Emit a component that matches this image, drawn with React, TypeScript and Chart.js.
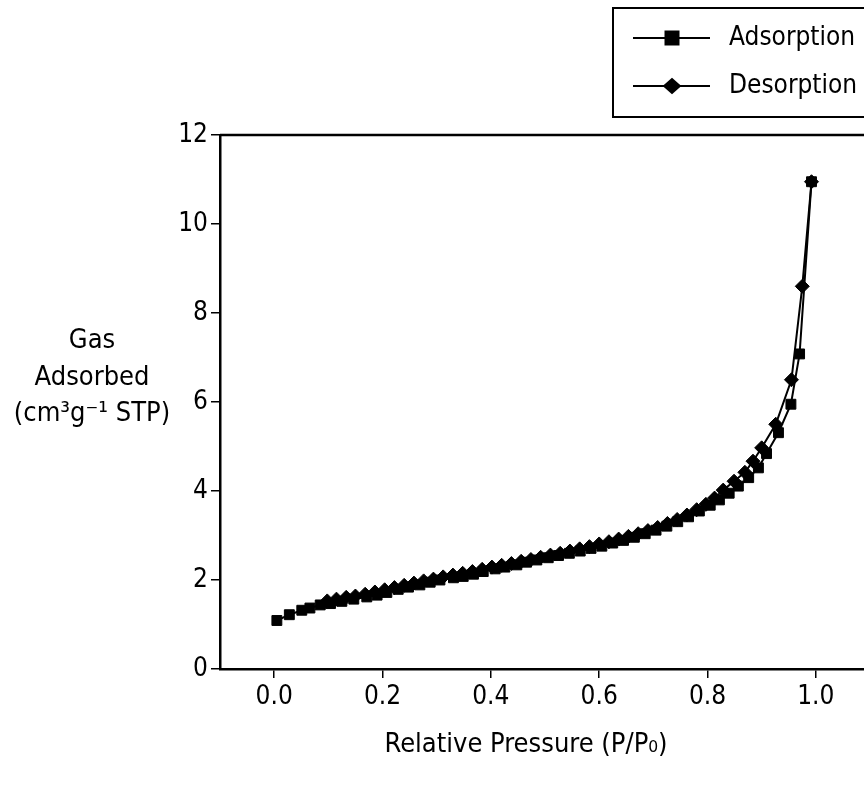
import React, { useEffect, useRef } from "react";
import { Chart, registerables } from "chart.js";

Chart.register(...registerables);

// ---- data ----
const adsorptionP = [0.005, 0.028, 0.051, 0.066, 0.085, 0.104, 0.125, 0.147, 0.171, 0.19, 0.208, 0.229, 0.248, 0.269, 0.288, 0.306, 0.331, 0.349, 0.368, 0.386, 0.408, 0.426, 0.448, 0.466, 0.485, 0.506, 0.525, 0.545, 0.565, 0.585, 0.605, 0.625, 0.645, 0.665, 0.685, 0.705, 0.725, 0.745, 0.765, 0.785, 0.805, 0.822, 0.84, 0.857, 0.876, 0.894, 0.909, 0.931, 0.954, 0.97, 0.992];
const adsorptionV = [1.09, 1.22, 1.32, 1.37, 1.44, 1.47, 1.52, 1.57, 1.62, 1.66, 1.72, 1.79, 1.84, 1.89, 1.95, 2.0, 2.05, 2.08, 2.13, 2.19, 2.25, 2.29, 2.34, 2.4, 2.45, 2.5, 2.55, 2.6, 2.65, 2.71, 2.76, 2.83, 2.89, 2.96, 3.04, 3.12, 3.21, 3.31, 3.42, 3.55, 3.68, 3.8, 3.95, 4.11, 4.3, 4.52, 4.84, 5.31, 5.95, 7.08, 10.95];
const desorptionP = [0.098, 0.115, 0.133, 0.15, 0.168, 0.186, 0.204, 0.222, 0.24, 0.258, 0.276, 0.294, 0.312, 0.33, 0.348, 0.366, 0.384, 0.402, 0.42, 0.438, 0.456, 0.474, 0.492, 0.51, 0.528, 0.546, 0.564, 0.582, 0.6, 0.618, 0.636, 0.654, 0.672, 0.69, 0.708, 0.726, 0.744, 0.762, 0.78, 0.797, 0.813, 0.829, 0.849, 0.869, 0.884, 0.9, 0.926, 0.955, 0.975, 0.992];
const desorptionV = [1.53, 1.57, 1.61, 1.64, 1.68, 1.73, 1.78, 1.83, 1.88, 1.93, 1.98, 2.02, 2.07, 2.11, 2.15, 2.19, 2.24, 2.29, 2.33, 2.37, 2.42, 2.46, 2.51, 2.56, 2.6, 2.65, 2.7, 2.75, 2.81, 2.86, 2.92, 2.98, 3.04, 3.11, 3.18, 3.27, 3.36, 3.46, 3.58, 3.7, 3.84, 4.02, 4.22, 4.42, 4.67, 4.97, 5.5, 6.5, 8.6, 10.95];

const seriesLabels = ["Adsorption", "Desorption"];
const seriesStyles = ["rect", "rectRot"];
const xTicks = [0, 0.2, 0.4, 0.6, 0.8, 1.0];
const yTicks = [0, 2, 4, 6, 8, 10, 12];
const xTitle = "Relative Pressure (P/P\u2080)";
const yTitleLines = ["Gas", "Adsorbed", "(cm\u00b3g\u207b\u00b9 STP)"];

const FONT = '"DejaVu Sans Condensed", "DejaVu Sans", sans-serif';
const TICK_FONT = '"Liberation Sans Narrow", "DejaVu Sans Condensed", sans-serif';
const CW = 880;
const CH = 791;

function drawMarker(ctx: CanvasRenderingContext2D, style: string, x: number, y: number, r: number) {
  ctx.beginPath();
  if (style === "rect") {
    ctx.rect(x - r, y - r, 2 * r, 2 * r);
  } else {
    ctx.moveTo(x, y - r * 1.1);
    ctx.lineTo(x + r * 1.25, y);
    ctx.lineTo(x, y + r * 1.1);
    ctx.lineTo(x - r * 1.25, y);
    ctx.closePath();
  }
  ctx.fill();
}

const decorPlugin = {
  id: "decor",
  afterDraw(chart: any) {
    const { ctx, chartArea } = chart;
    ctx.save();
    // frame top / right
    ctx.strokeStyle = "#000";
    ctx.lineWidth = 2.5;
    ctx.beginPath();
    ctx.moveTo(chartArea.left, chartArea.top);
    ctx.lineTo(chartArea.right, chartArea.top);
    ctx.lineTo(chartArea.right, chartArea.bottom);
    ctx.stroke();

    ctx.fillStyle = "#000";
    ctx.font = `27px ${FONT}`;
    ctx.textAlign = "center";
    ctx.textBaseline = "middle";
    // y title (horizontal, three lines)
    const yPos = [341, 378, 414];
    yTitleLines.forEach((t, i) => ctx.fillText(t, 92, yPos[i]));
    // x title
    ctx.fillText(xTitle, 526, 745);

    // legend
    ctx.lineWidth = 2;
    ctx.strokeRect(613, 8, 320, 109);
    ctx.font = `26px ${FONT}`;
    const rows = [38, 86];
    chart.data.datasets.forEach((ds: any, i: number) => {
      const y = rows[i];
      ctx.beginPath();
      ctx.moveTo(633, y);
      ctx.lineTo(710, y);
      ctx.stroke();
      drawMarker(ctx, seriesStyles[i], 672, y, 7.5);
      ctx.textAlign = "left";
      ctx.fillText(ds.label, 729, y);
    });
    ctx.restore();
  },
};

export default function App() {
  const ref = useRef<HTMLCanvasElement | null>(null);

  useEffect(() => {
    if (!ref.current) return;
    const ads = adsorptionP.map((p, i) => ({ x: p, y: adsorptionV[i] }));
    const des = desorptionP.map((p, i) => ({ x: p, y: desorptionV[i] }));
    const tickFont = { family: TICK_FONT, size: 26 };
    const chart = new Chart(ref.current, {
      type: "line",
      data: {
        datasets: [
          {
            label: seriesLabels[0],
            data: ads,
            borderColor: "#000",
            backgroundColor: "#000",
            borderWidth: 2,
            pointStyle: seriesStyles[0] as any,
            pointRadius: 7,
            pointBorderWidth: 1,
            pointBackgroundColor: "#000",
            pointBorderColor: "#000",
            tension: 0,
          },
          {
            label: seriesLabels[1],
            data: des,
            borderColor: "#000",
            backgroundColor: "#000",
            borderWidth: 2,
            pointStyle: seriesStyles[1] as any,
            pointRadius: 7,
            pointBorderWidth: 1,
            pointBackgroundColor: "#000",
            pointBorderColor: "#000",
            tension: 0,
          },
        ],
      },
      options: {
        animation: false,
        responsive: false,
        devicePixelRatio: 1,
        layout: { padding: { top: 135, right: 10, left: 0, bottom: 0 } },
        plugins: {
          legend: { display: false },
          tooltip: { enabled: false },
          title: { display: false },
        },
        scales: {
          x: {
            type: "linear",
            min: -0.1,
            max: 1.1,
            afterBuildTicks: (s: any) => {
              s.ticks = xTicks.map((v) => ({ value: v }));
            },
            afterFit: (s: any) => {
              s.height = CH - 669;
            },
            ticks: {
              color: "#000",
              font: tickFont,
              padding: 4,
              maxRotation: 0,
              callback: (v: any) => Number(v).toFixed(1),
            },
            grid: { drawOnChartArea: false, drawTicks: true, tickLength: 9, color: "#000", lineWidth: 1.5 },
            border: { display: true, color: "#000", width: 2.5 },
          },
          y: {
            type: "linear",
            min: 0,
            max: 12,
            afterBuildTicks: (s: any) => {
              s.ticks = yTicks.map((v) => ({ value: v }));
            },
            afterFit: (s: any) => {
              s.width = 220;
            },
            ticks: {
              color: "#000",
              font: tickFont,
              padding: 3,
              callback: (v: any) => String(v),
            },
            grid: { drawOnChartArea: false, drawTicks: true, tickLength: 9, color: "#000", lineWidth: 1.5 },
            border: { display: true, color: "#000", width: 2.5 },
          },
        },
      },
      plugins: [decorPlugin],
    });
    return () => chart.destroy();
  }, []);

  return (
    <div style={{ position: "fixed", left: 0, top: 0, width: 864, height: 791, overflow: "hidden", background: "#fff" }}>
      <canvas ref={ref} width={CW} height={CH} style={{ display: "block", width: CW, height: CH }} />
    </div>
  );
}
